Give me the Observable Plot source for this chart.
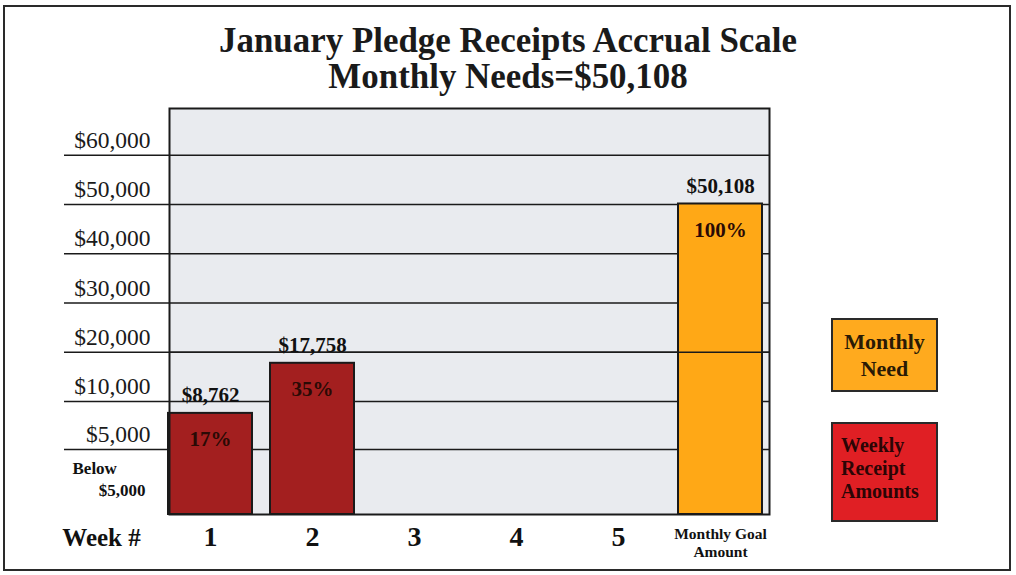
<!DOCTYPE html>
<html>
<head>
<meta charset="utf-8">
<script src="https://cdn.jsdelivr.net/npm/d3@7"></script>
<script src="https://cdn.jsdelivr.net/npm/@observablehq/plot@0.6"></script>
<style>
  html, body { margin: 0; padding: 0; background: #fff; }
  #wrap { position: relative; width: 1016px; height: 575px; overflow: hidden; font-family: "Liberation Serif", "Times New Roman", serif; }
  #border { position: absolute; left: 3px; top: 5px; width: 1008px; height: 566px; box-sizing: border-box; border: 2px solid #2a2a2a; pointer-events: none; }
  #title { height: 100px; box-sizing: border-box; padding-top: 22px; text-align: center; font-weight: bold; font-size: 36px; line-height: 36px; color: #1a1a1a; }
  #title div { transform: scaleX(0.97); }
  .legend { position: absolute; box-sizing: border-box; border: 2px solid #2a2a2a; font-weight: bold; }
  #legNeed { left: 831px; top: 318px; width: 107px; height: 74px; display: flex; align-items: center; justify-content: center; text-align: center; font-size: 22px; line-height: 27px; color: #2a1a05; }
  #legWeekly { left: 831px; top: 422px; width: 107px; height: 100px; padding: 10px 0 0 8px; font-size: 20px; line-height: 23px; color: #2b0505; }
</style>
</head>
<body>
<div id="wrap">
  <div id="title"></div>
  <div id="chart"></div>
  <div id="legNeed" class="legend"></div>
  <div id="legWeekly" class="legend"></div>
  <div id="border"></div>
</div>
<script>
// ---- data ----
const titleLines = ["January Pledge Receipts Accrual Scale", "Monthly Needs=$50,108"];
const categories = ["1", "2", "3", "4", "5", "Monthly Goal Amount"];
const weekNumbers = ["1", "2", "3", "4", "5"];
const goalCategory = "Monthly Goal Amount";
const goalCategoryLabel = "Monthly Goal\nAmount";
const weeklyWeeks = ["1", "2"];
const weeklyAmounts = [8762, 17758];
const weeklyAmountLabels = ["$8,762", "$17,758"];
const weeklyPercents = ["17%", "35%"];
const goalAmount = 50108;
const goalAmountLabel = "$50,108";
const goalPercent = "100%";
const yTickValues = [60000, 50000, 40000, 30000, 20000, 10000, 5000];
const yTickLabels = ["$60,000", "$50,000", "$40,000", "$30,000", "$20,000", "$10,000", "$5,000"];
const belowLabel = ["Below", "$5,000"];
const xAxisTitle = "Week #";
const legendNeed = "Monthly<br>Need";
const legendWeekly = "Weekly<br>Receipt<br>Amounts";

// ---- build ----
document.getElementById("title").innerHTML = titleLines.map(t => `<div>${t}</div>`).join("");
document.getElementById("legNeed").innerHTML = legendNeed;
document.getElementById("legWeekly").innerHTML = legendWeekly;

const colors = { weekly: "#a31f1f", goal: "#ffa816" };
const legendColors = { need: "#ffaa1e", weekly: "#e01f24" };
document.getElementById("legNeed").style.background = legendColors.need;
document.getElementById("legWeekly").style.background = legendColors.weekly;

const bars = weeklyWeeks.map((w, i) => ({ cat: w, value: weeklyAmounts[i], label: weeklyAmountLabels[i], pct: weeklyPercents[i], kind: "weekly" }))
  .concat([{ cat: goalCategory, value: goalAmount, label: goalAmountLabel, pct: goalPercent, kind: "goal" }]);

const ticks = yTickValues.map((v, i) => ({ v, label: yTickLabels[i] }));
const font = "Liberation Serif";

const chart = Plot.plot({
  width: 1016,
  height: 475,
  marginLeft: 169,
  marginRight: 247,
  marginTop: 8,
  marginBottom: 61,
  style: { fontFamily: font, background: "transparent", overflow: "visible" },
  x: { type: "band", domain: categories, range: [163, 767], paddingInner: 0.18, paddingOuter: 0.05, axis: null },
  y: { type: "linear", domain: [0, 5000, 10000, 69500], range: [414, 349, 301, 8], axis: null },
  color: { domain: ["weekly", "goal"], range: [colors.weekly, colors.goal] },
  marks: [
    Plot.frame({ fill: "#e9ebef" }),
    Plot.ruleY(ticks, { y: "v", stroke: "#1a1a1a", strokeWidth: 1.6, insetLeft: -105 }),
    Plot.barY(bars, { x: "cat", y: "value", fill: "kind", stroke: "#1a1a1a", strokeWidth: 2 }),
    Plot.ruleY(ticks.filter(d => d.v === 20000), { y: "v", stroke: "#1a1a1a", strokeWidth: 1.6 }),
    Plot.frame({ stroke: "#1a1a1a", strokeWidth: 2 }),
    Plot.text(bars, { x: "cat", y: "value", text: "label", dy: -18, fontSize: 21, fontWeight: "bold", fill: "#111" }),
    Plot.text(bars, { x: "cat", y: "value", text: "pct", dy: 26, fontSize: 21, fontWeight: "bold", fill: "#2a0a05" }),
    Plot.text(ticks, { y: "v", text: "label", frameAnchor: "left", textAnchor: "end", dx: -19, dy: -15, fontSize: 23.5, fill: "#1a1a1a" }),
    Plot.text([belowLabel[0]], { y: 5000, frameAnchor: "left", textAnchor: "start", dx: -97, dy: 19, fontSize: 17, fontWeight: "bold", fill: "#111" }),
    Plot.text([belowLabel[1]], { y: 5000, frameAnchor: "left", textAnchor: "end", dx: -24, dy: 41, fontSize: 17, fontWeight: "bold", fill: "#111" }),
    Plot.text(weekNumbers, { x: d => d, frameAnchor: "bottom", dy: 31, fontSize: 28, fontWeight: "bold", fill: "#111" }),
    Plot.text([goalCategoryLabel], { x: () => goalCategory, frameAnchor: "bottom", dy: 42, fontSize: 15.5, lineHeight: 1.1, fontWeight: "bold", fill: "#111" }),
    Plot.text([xAxisTitle], { frameAnchor: "bottom-left", textAnchor: "middle", dx: -68, dy: 31, fontSize: 25, fontWeight: "bold", fill: "#111" })
  ]
});
document.getElementById("chart").appendChild(chart);
</script>
</body>
</html>
